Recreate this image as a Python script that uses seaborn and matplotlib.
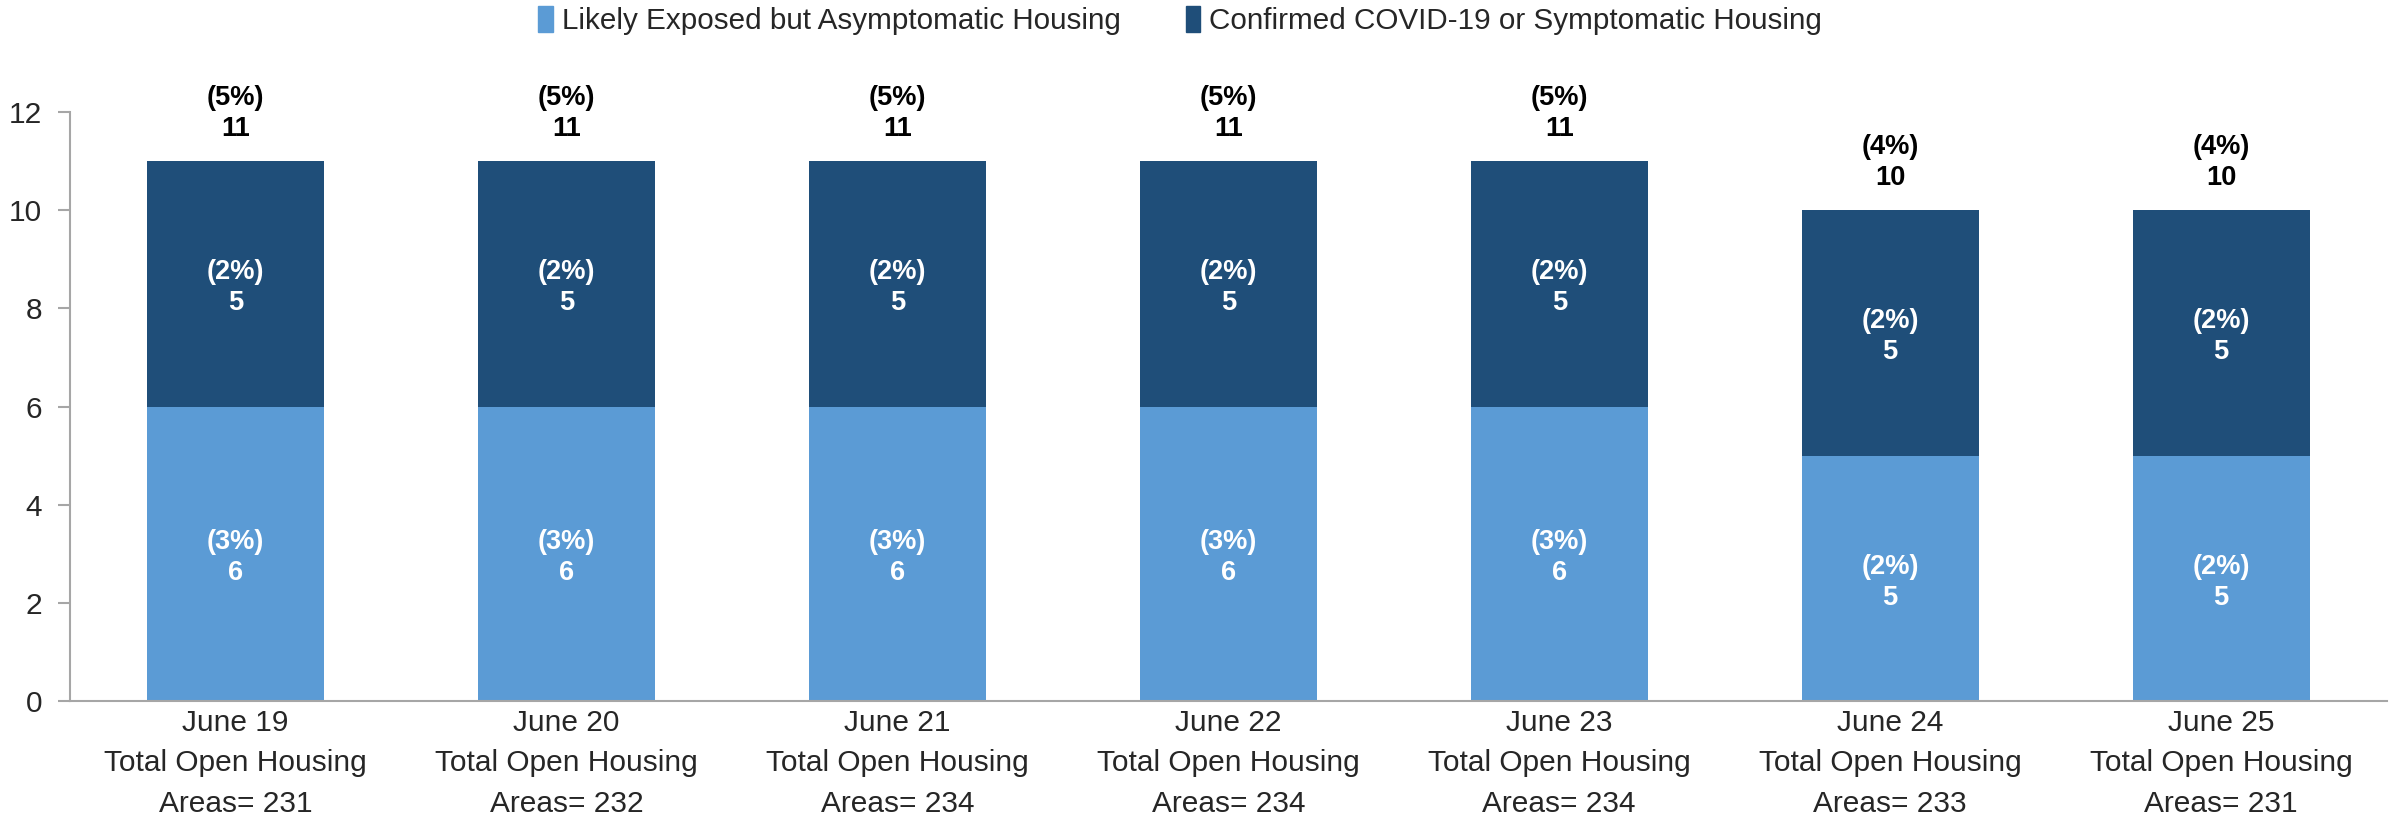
import pandas as pd
import matplotlib
matplotlib.use('Agg')
import matplotlib.pyplot as plt
import seaborn as sns
from matplotlib.patches import Patch

# values
dates = ['June 19', 'June 20', 'June 21', 'June 22', 'June 23', 'June 24', 'June 25']
open_areas = [231, 232, 234, 234, 234, 233, 231]
likely_exposed = [6, 6, 6, 6, 6, 5, 5]
confirmed = [5, 5, 5, 5, 5, 5, 5]
pct_likely = ['3%', '3%', '3%', '3%', '3%', '2%', '2%']
pct_confirmed = ['2%', '2%', '2%', '2%', '2%', '2%', '2%']
pct_total = ['5%', '5%', '5%', '5%', '5%', '4%', '4%']

light = '#5B9BD5'
dark = '#1F4E79'
spine = '#A6A6A6'

sns.set_style('white')
plt.rcParams['font.family'] = ['Liberation Sans', 'DejaVu Sans']

labels = [f'{d}\nTotal Open Housing\nAreas= {a}' for d, a in zip(dates, open_areas)]
df = pd.DataFrame({
    'day': labels,
    'likely': likely_exposed,
    'confirmed': confirmed,
})
df['total'] = df['likely'] + df['confirmed']

fig = plt.figure(figsize=(23.89, 8.19), dpi=100)
ax = fig.add_axes([0.0293, 0.144, 0.9697, 0.719])

# stacked bars: total (dark) first, then the lower segment on top
sns.barplot(data=df, x='day', y='total', color=dark, width=0.535,
            saturation=1, linewidth=0, ax=ax)
sns.barplot(data=df, x='day', y='likely', color=light, width=0.535,
            saturation=1, linewidth=0, ax=ax)

lbl = dict(ha='center', fontsize=19.6, fontweight='bold', linespacing=1.25)
for i, row in df.iterrows():
    ax.text(i, row['likely'] / 2 - 0.08, f"({pct_likely[i]})\n{row['likely']}",
            va='center', color='white', **lbl)
    ax.text(i, row['likely'] + row['confirmed'] / 2 - 0.08,
            f"({pct_confirmed[i]})\n{row['confirmed']}",
            va='center', color='white', **lbl)
    ax.text(i, row['total'] + 0.4, f"({pct_total[i]})\n{row['total']}",
            va='bottom', color='black', **lbl)

ax.set_xlim(-0.5, 6.5)
ax.set_ylim(0, 12)
ax.set_yticks(range(0, 13, 2))
ax.set_xlabel('')
ax.set_ylabel('')
ax.tick_params(axis='y', which='major', left=True, length=9, width=1.5,
               color=spine, labelsize=21.5, pad=11)
ax.tick_params(axis='x', length=0, labelsize=21.5, pad=6)
for lab in ax.get_xticklabels():
    lab.set_linespacing(1.55)

sns.despine(ax=ax, top=True, right=True)
for s in ['left', 'bottom']:
    ax.spines[s].set_color(spine)
    ax.spines[s].set_linewidth(1.5)

handles = [Patch(color=light, label='Likely Exposed but Asymptomatic Housing'),
           Patch(color=dark, label='Confirmed COVID-19 or Symptomatic Housing')]
fig.legend(handles=handles, loc='center', bbox_to_anchor=(0.494, 0.975), ncol=2,
           frameon=False, fontsize=21.3, handlelength=0.5, handleheight=1.0,
           handletextpad=0.3, columnspacing=2.2)

fig.savefig('out.png', dpi=100)
